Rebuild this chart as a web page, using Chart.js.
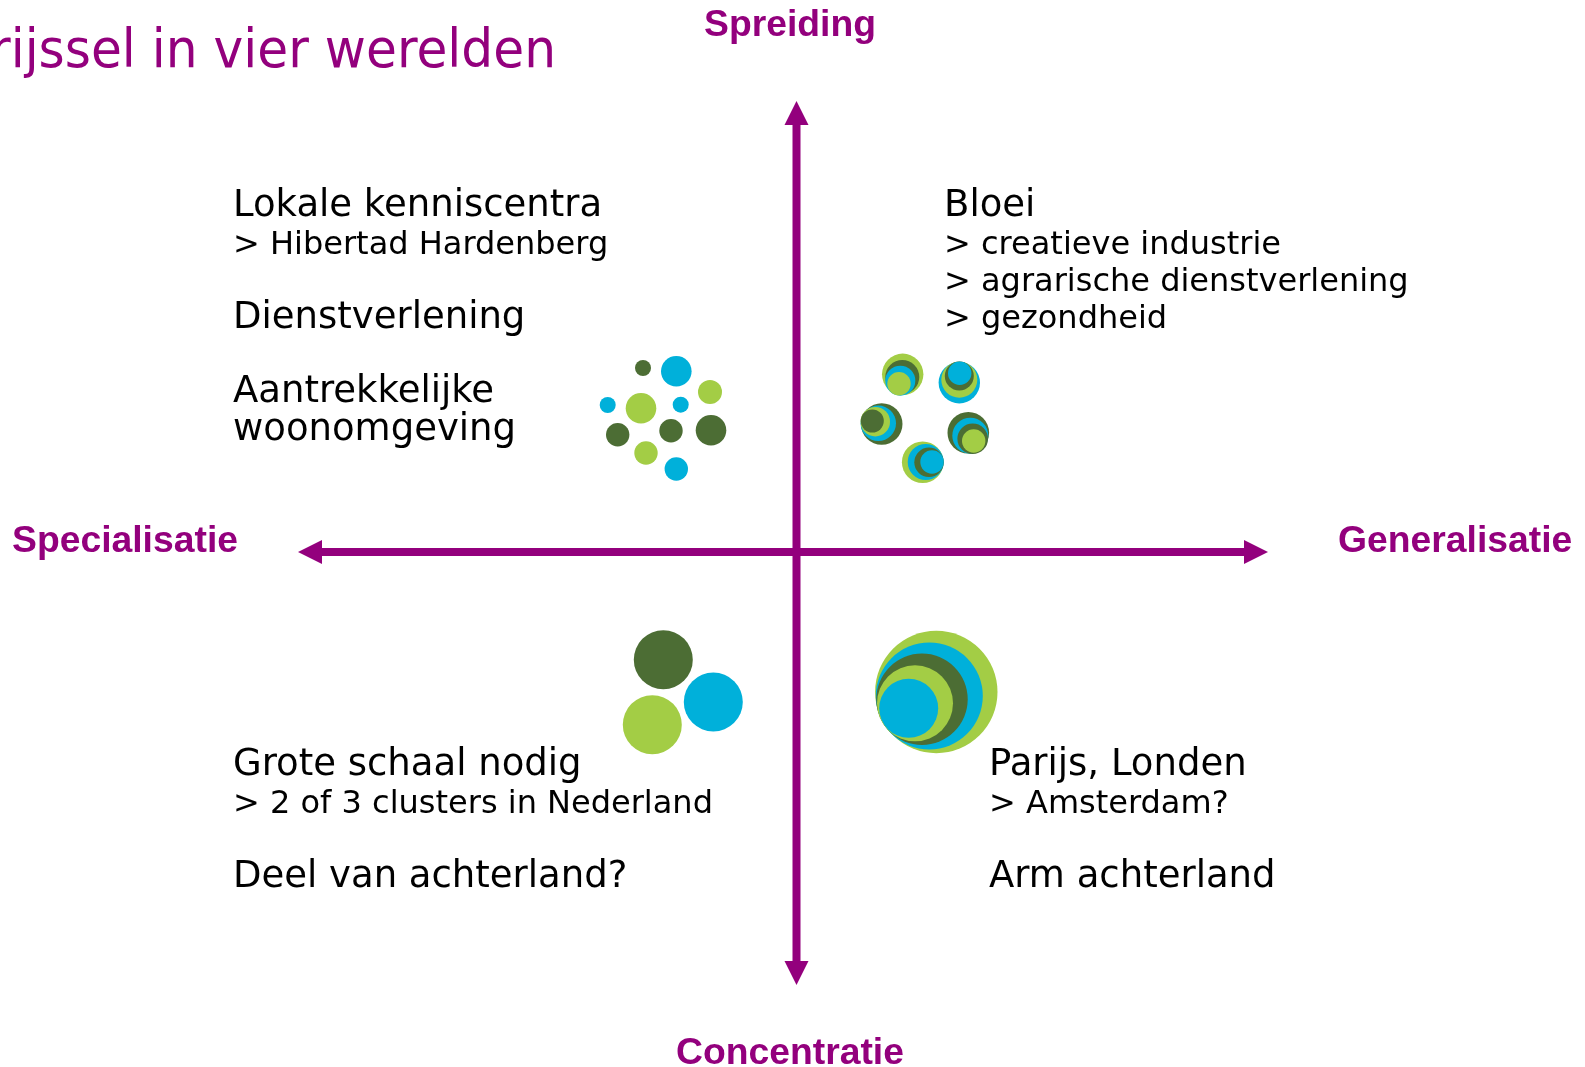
<!DOCTYPE html>
<html>
<head>
<meta charset="utf-8">
<title>rijssel in vier werelden</title>
<script src="https://cdn.jsdelivr.net/npm/chart.js@4"></script>
<style>
  html, body { margin: 0; padding: 0; background: #fff; overflow: hidden; }
  canvas { display: block; }
</style>
</head>
<body>
<canvas id="myChart" width="1585" height="1067"></canvas>
<script>
const purple = '#93007d'
const dark = '#4c6d34'
const blue = '#00b0da'
const light = '#a3cd45'

// axes
const horizX = [322, 1244]
const horizY = [552, 552]
const vertX = [796.5, 796.5]
const vertY = [125, 961]

// top left: loose dots
const looseX = [643, 676.3, 710, 607.7, 641, 680.7, 617.7, 671, 711, 646, 676.3]
const looseY = [368, 371.3, 392, 405, 408.3, 404.7, 434.7, 430.7, 430.3, 453, 469]
const looseR = [8, 15.3, 12, 8, 15.3, 8, 11.7, 11.7, 15.3, 11.7, 11.7]
const looseC = [dark, blue, light, blue, light, blue, dark, dark, dark, light, blue]

// top right: five small nested clusters
const nestedX = [902.7, 902.3, 900.3, 899, 959.3, 959.3, 959.3, 959.7, 881.7, 878.3, 875.3, 872.3, 968.3, 970.3, 972.7, 973.7, 922.7, 925.7, 929, 932]
const nestedY = [374.3, 377, 380.7, 383.7, 382.7, 379.7, 376, 373.3, 424, 423.3, 421.7, 421, 432.7, 435.7, 438.7, 441, 462.3, 462, 462.3, 462]
const nestedR = [20.7, 17, 15, 11.7, 20.7, 18, 14.5, 11.7, 20.8, 17.7, 14.7, 11.5, 20.8, 18, 15.3, 11.7, 20.8, 18, 14.7, 11.7]
const nestedC = [light, dark, blue, light, blue, light, dark, blue, dark, blue, light, dark, dark, blue, dark, light, light, blue, dark, blue]

// bottom left: three big dots
const bigX = [663.3, 713.3, 652.3]
const bigY = [659.7, 702, 724.7]
const bigR = [29.5, 29.5, 29.5]
const bigC = [dark, blue, light]

// bottom right: one big nested cluster
const hugeX = [936.3, 929.3, 922, 915, 908.7]
const hugeY = [692, 696, 699.3, 703.3, 708.3]
const hugeR = [61.2, 53.5, 45.7, 38, 29.5]
const hugeC = [light, blue, dark, light, blue]

const titleText = 'rijssel in vier werelden'
const titleX = -10
const titleY = 67
const titleWidth = 566

const axisLabels = ['Spreiding', 'Specialisatie', 'Generalisatie', 'Concentratie']
const axisLabelX = [704, 12, 1338, 676]
const axisLabelY = [36, 552, 552, 1064]

const bigLines = ['Lokale kenniscentra', 'Dienstverlening', 'Aantrekkelijke', 'woonomgeving', 'Bloei', 'Grote schaal nodig', 'Deel van achterland?', 'Parijs, Londen', 'Arm achterland']
const bigLineX = [233, 233, 233, 233, 944, 233, 233, 989, 989]
const bigLineY = [216, 328, 402, 440, 216, 775, 887, 775, 887]

const subLines = ['> Hibertad Hardenberg', '> creatieve industrie', '> agrarische dienstverlening', '> gezondheid', '> 2 of 3 clusters in Nederland', '> Amsterdam?']
const subLineX = [233, 944, 944, 944, 233, 989]
const subLineY = [254, 254, 291, 328, 813, 813]

function toPoints(xs, ys, rs) {
  return xs.map((x, i) => ({x: x, y: ys[i], r: rs ? rs[i] : undefined}))
}

function bubbleSet(xs, ys, rs, colors) {
  return {
    type: 'bubble',
    data: toPoints(xs, ys, rs),
    backgroundColor: colors,
    borderWidth: 0,
    hoverRadius: 0,
    clip: false
  }
}

function axisSet(xs, ys) {
  return {
    type: 'line',
    data: toPoints(xs, ys),
    borderColor: purple,
    borderWidth: 8,
    pointRadius: 0,
    borderCapStyle: 'butt',
    clip: false
  }
}

// arrow heads and all the text
const drawExtras = {
  id: 'drawExtras',
  afterDatasetsDraw(chart) {
    const ctx = chart.ctx
    const sx = chart.scales.x
    const sy = chart.scales.y

    function head(x, y, dx, dy) {
      const px = sx.getPixelForValue(x)
      const py = sy.getPixelForValue(y)
      ctx.fillStyle = purple
      ctx.beginPath()
      ctx.moveTo(px + dx * 24, py + dy * 24)
      ctx.lineTo(px - dy * 12, py + dx * 12)
      ctx.lineTo(px + dy * 12, py - dx * 12)
      ctx.closePath()
      ctx.fill()
    }
    head(horizX[0], horizY[0], -1, 0)
    head(horizX[1], horizY[1], 1, 0)
    head(vertX[0], vertY[0], 0, -1)
    head(vertX[1], vertY[1], 0, 1)

    function write(lines, xs, ys, font, color, maxWidth) {
      ctx.font = font
      ctx.fillStyle = color
      ctx.textAlign = 'left'
      ctx.textBaseline = 'alphabetic'
      lines.forEach((t, i) => {
        const px = sx.getPixelForValue(xs[i])
        const py = sy.getPixelForValue(ys[i])
        if (maxWidth) ctx.fillText(t, px, py, maxWidth)
        else ctx.fillText(t, px, py)
      })
    }
    write([titleText], [titleX], [titleY], '54px "DejaVu Sans"', purple, titleWidth)
    write(axisLabels, axisLabelX, axisLabelY, 'bold 37.3px "Liberation Sans"', purple)
    write(bigLines, bigLineX, bigLineY, '37px "DejaVu Sans"', '#000')
    write(subLines, subLineX, subLineY, '32px "DejaVu Sans"', '#000')
  }
}

new Chart(document.getElementById('myChart'), {
  data: {
    datasets: [
      axisSet(horizX, horizY),
      axisSet(vertX, vertY),
      bubbleSet(looseX, looseY, looseR, looseC),
      bubbleSet(nestedX, nestedY, nestedR, nestedC),
      bubbleSet(bigX, bigY, bigR, bigC),
      bubbleSet(hugeX, hugeY, hugeR, hugeC)
    ]
  },
  options: {
    responsive: false,
    animation: false,
    events: [],
    layout: { padding: 0, autoPadding: false },
    scales: {
      x: { type: 'linear', display: false, min: 0, max: 1585 },
      y: { type: 'linear', display: false, min: 0, max: 1067, reverse: true }
    },
    plugins: { legend: { display: false }, tooltip: { enabled: false } }
  },
  plugins: [drawExtras]
})
</script>
</body>
</html>
